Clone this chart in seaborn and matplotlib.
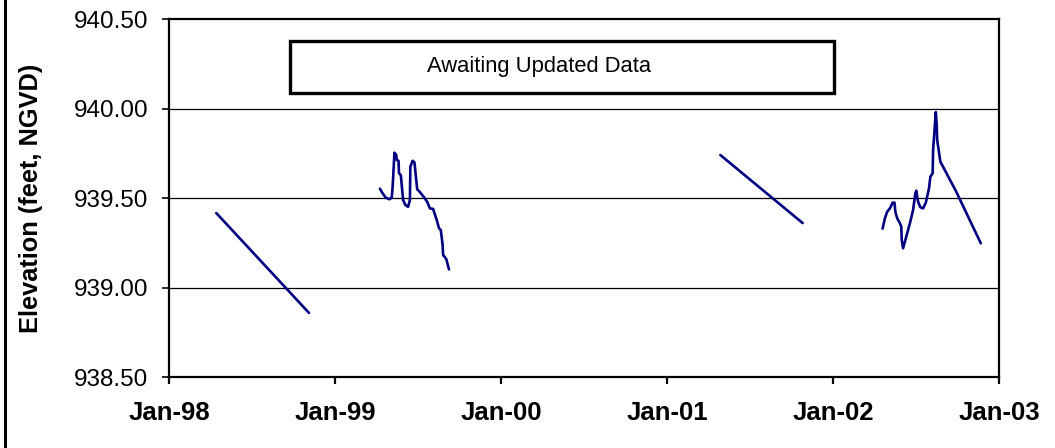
import matplotlib
matplotlib.use("Agg")
import matplotlib.pyplot as plt
import matplotlib.dates as mdates
from matplotlib.patches import Rectangle
from matplotlib.lines import Line2D
import seaborn as sns
import pandas as pd

# ---- data ----
seg1_dates = ["1998-04-15", "1998-11-05"]
seg1_elev = [939.416, 938.858]

seg2_dates = ["1999-04-10", "1999-04-16", "1999-04-23", "1999-05-01", "1999-05-06",
              "1999-05-08", "1999-05-12", "1999-05-16", "1999-05-17", "1999-05-21",
              "1999-05-22", "1999-05-26", "1999-05-31", "1999-06-05", "1999-06-11",
              "1999-06-15", "1999-06-16", "1999-06-21", "1999-06-25", "1999-07-01",
              "1999-07-08", "1999-07-16", "1999-07-23", "1999-07-29", "1999-08-05",
              "1999-08-13", "1999-08-18", "1999-08-22", "1999-08-26", "1999-08-27",
              "1999-09-03", "1999-09-09"]
seg2_elev = [939.552, 939.526, 939.502, 939.493, 939.502,
             939.563, 939.753, 939.740, 939.712, 939.708,
             939.638, 939.628, 939.489, 939.461, 939.451,
             939.489, 939.675, 939.708, 939.699, 939.549,
             939.530, 939.504, 939.479, 939.442, 939.439,
             939.377, 939.331, 939.321, 939.237, 939.182,
             939.159, 939.101]

seg3_dates = ["2001-04-28", "2001-10-26"]
seg3_elev = [939.74, 939.36]

seg4_dates = ["2002-04-20", "2002-04-25", "2002-04-30", "2002-05-06", "2002-05-12",
              "2002-05-16", "2002-05-18", "2002-05-22", "2002-05-28", "2002-05-31",
              "2002-06-01", "2002-06-04", "2002-06-10", "2002-06-19", "2002-06-26",
              "2002-07-01", "2002-07-03", "2002-07-07", "2002-07-12", "2002-07-18",
              "2002-07-24", "2002-07-31", "2002-08-03", "2002-08-08", "2002-08-09",
              "2002-08-13", "2002-08-15", "2002-08-17", "2002-08-18", "2002-08-25",
              "2002-09-29", "2002-10-25", "2002-11-22"]
seg4_elev = [939.329, 939.387, 939.423, 939.442, 939.474,
             939.474, 939.423, 939.387, 939.359, 939.340,
             939.265, 939.219, 939.275, 939.359, 939.433,
             939.526, 939.541, 939.479, 939.448, 939.442,
             939.474, 939.554, 939.619, 939.638, 939.768,
             939.908, 939.980, 939.908, 939.824, 939.703,
             939.535, 939.396, 939.247]

y_ticks = [938.5, 939.0, 939.5, 940.0, 940.5]
x_tick_dates = ["1998-01-01", "1999-01-01", "2000-01-01", "2001-01-01", "2002-01-01", "2003-01-01"]
x_tick_labels = ["Jan-98", "Jan-99", "Jan-00", "Jan-01", "Jan-02", "Jan-03"]
y_label = "Elevation (feet, NGVD)"
note_text = "Awaiting Updated Data"

# ---- build frame ----
frames = []
for i, (d, e) in enumerate([(seg1_dates, seg1_elev), (seg2_dates, seg2_elev),
                            (seg3_dates, seg3_elev), (seg4_dates, seg4_elev)]):
    frames.append(pd.DataFrame({"date": pd.to_datetime(d), "elev": e, "seg": i}))
df = pd.concat(frames, ignore_index=True)

sns.set_theme(style="white")
plt.rcParams['font.family'] = ['Liberation Sans', 'DejaVu Sans']
plt.rcParams['text.color'] = 'black'
plt.rcParams['axes.labelcolor'] = 'black'

fig = plt.figure(figsize=(10.55, 4.48), dpi=100)
ax = fig.add_axes([169/1055, 1 - 377/448, 830/1055, 358/448])

sns.lineplot(data=df, x="date", y="elev", units="seg", estimator=None,
             color="#000080", linewidth=1.9, ax=ax, legend=False, sort=False)

ax.set_xlim(pd.Timestamp("1998-01-01"), pd.Timestamp("2003-01-01"))
ax.set_ylim(938.5, 940.5)
ax.set_yticks(y_ticks)
ax.set_yticklabels([f"{v:.2f}" for v in y_ticks])
ax.set_xticks(pd.to_datetime(x_tick_dates))
ax.set_xticklabels(x_tick_labels, fontweight="bold")

for v in y_ticks[1:-1]:
    ax.axhline(v, color="black", linewidth=0.9, zorder=0)

for s in ax.spines.values():
    s.set_visible(True)
    s.set_color("black")
    s.set_linewidth(1.6)

ax.tick_params(axis="y", direction="out", length=5, width=1.2, labelsize=17.5, pad=10,
               left=True, colors="black")
ax.tick_params(axis="x", direction="out", length=5, width=1.6, labelsize=18.5, pad=12,
               bottom=True, colors="black")
ax.set_xlabel("")
ax.set_ylabel(y_label, fontsize=18.3, fontweight="bold", labelpad=22, color="black")
ax.grid(False)

# annotation box
ax.add_patch(Rectangle((121/830, (377-93)/358), 544/830, 52/358, transform=ax.transAxes,
                       fill=False, edgecolor="black", linewidth=2.4, zorder=5))
ax.text((539-169)/830, (377-67)/358, note_text, transform=ax.transAxes,
        ha="center", va="center", fontsize=15.8, color="black", zorder=6)

# left figure border
fig.add_artist(Line2D([5/1055, 5/1055], [0, 1], transform=fig.transFigure,
                      color="black", linewidth=2.2))

fig.savefig("out.png", dpi=100, facecolor="white")
